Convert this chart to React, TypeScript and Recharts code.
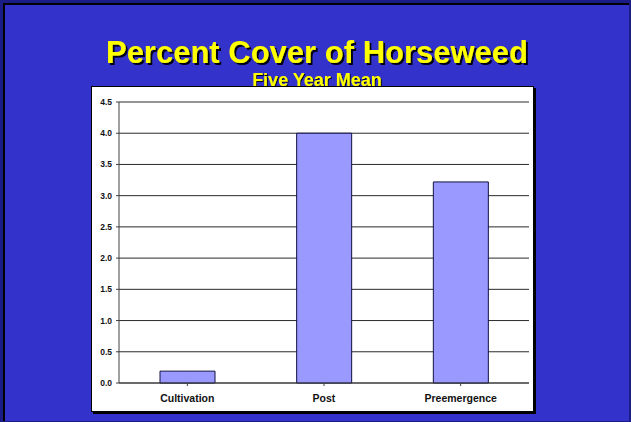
import React from "react";
import { BarChart, Bar, XAxis, YAxis, CartesianGrid } from "recharts";

// Five-year mean percent cover per weed-control treatment
const treatments = ["Cultivation", "Post", "Preemergence"];
const coverValues = [0.19, 4.0, 3.22];
const yTicks = [0, 0.5, 1.0, 1.5, 2.0, 2.5, 3.0, 3.5, 4.0, 4.5];

const data = treatments.map((name, i) => ({ name, cover: coverValues[i] }));

const FONT = "'Liberation Sans', Arial, Helvetica, sans-serif";

export default function App() {
  return (
    <div
      style={{
        position: "fixed",
        left: 0,
        top: 0,
        width: 631,
        height: 422,
        boxSizing: "border-box",
        background: "#3333cc",
        borderTop: "3px solid #1c1c86",
        borderLeft: "3px solid #1c1c86",
        borderRight: "2px solid #1c1c86",
        borderBottom: "1px solid #1c1c86",
        boxShadow: "inset 2px 2px 0 #000",
        overflow: "hidden",
        fontFamily: FONT,
      }}
    >
      <svg
        width={631}
        height={422}
        style={{ position: "absolute", left: -3, top: -3 }}
      >
        <defs>
          <filter id="titleShadow" x="-5%" y="-20%" width="110%" height="140%">
            <feDropShadow dx={2} dy={2} stdDeviation={0.3} floodColor="#000018" floodOpacity={1} />
          </filter>
          <filter id="subShadow" x="-5%" y="-20%" width="110%" height="140%">
            <feDropShadow dx={1} dy={1} stdDeviation={0.3} floodColor="#000018" floodOpacity={1} />
          </filter>
        </defs>
        <text
          x={317}
          y={62.5}
          textAnchor="middle"
          fontFamily={FONT}
          fontWeight="bold"
          fontSize={31}
          fill="#ffff00"
          filter="url(#titleShadow)"
        >
          Percent Cover of Horseweed
        </text>
        <text
          x={317}
          y={86}
          textAnchor="middle"
          fontFamily={FONT}
          fontWeight="bold"
          fontSize={18}
          fill="#ffff00"
          filter="url(#subShadow)"
        >
          Five Year Mean
        </text>
      </svg>

      {/* white chart panel */}
      <div
        style={{
          position: "absolute",
          left: 88,
          top: 83,
          width: 443,
          height: 326,
          boxSizing: "border-box",
          background: "#fff",
          border: "1px solid #000",
          boxShadow: "2px 2px 0 #000",
        }}
      />

      <div style={{ position: "absolute", left: 88, top: 83 }}>
        <BarChart
          width={443}
          height={326}
          data={data}
          margin={{ top: 16, right: 5, left: 0, bottom: 0 }}
          barCategoryGap="30%"
        >
          <CartesianGrid vertical={false} stroke="#2a2a2a" strokeWidth={1} />
          <XAxis
            dataKey="name"
            height={29}
            stroke="#404040"
            tickSize={3}
            tickMargin={9}
            interval={0}
            tick={{ fontSize: 10.5, fontWeight: "bold", fill: "#111", fontFamily: FONT }}
          />
          <YAxis
            width={28}
            domain={[0, 4.5]}
            ticks={yTicks}
            interval={0}
            stroke="#404040"
            tickSize={3}
            tickMargin={4}
            tickFormatter={(v: number) => v.toFixed(1)}
            tick={{ fontSize: 8.5, fontWeight: "bold", fill: "#111", fontFamily: FONT }}
          />
          <YAxis
            yAxisId="frame"
            orientation="right"
            width={0}
            domain={[0, 4.5]}
            tick={false}
            tickLine={false}
            stroke="#888"
          />
          <Bar
            dataKey="cover"
            fill="#9999ff"
            stroke="#101040"
            strokeWidth={1}
            isAnimationActive={false}
          />
        </BarChart>
      </div>
    </div>
  );
}
